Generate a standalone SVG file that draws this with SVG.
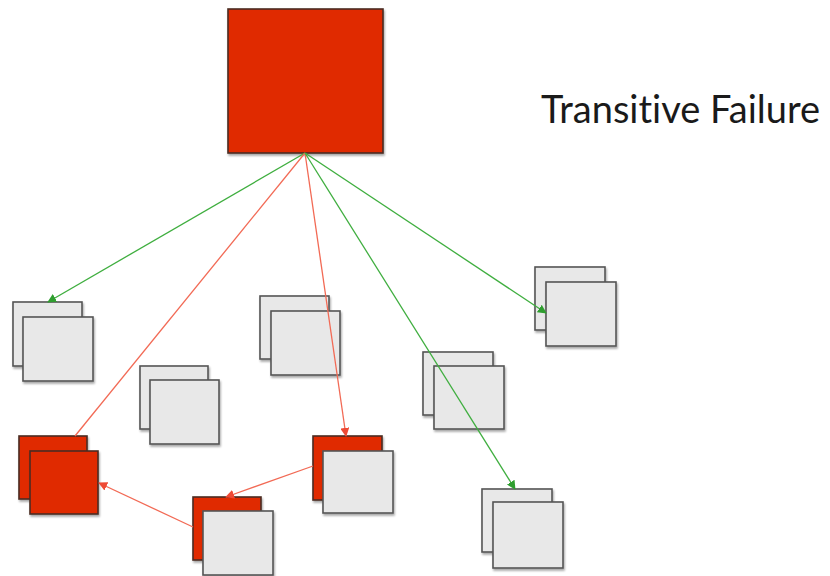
<svg xmlns="http://www.w3.org/2000/svg" width="830" height="576" viewBox="0 0 830 576">
  <defs>
    <style>
      .g { fill: #e8e8e8; stroke: #555555; stroke-width: 1.6; }
      .r { fill: #e02a00; stroke: #4a2a22; stroke-width: 1.6; }
      .sh { filter: url(#shadow); }
      .lg { stroke: #3fae3f; stroke-width: 1.3; fill: none; }
      .lr { stroke: #f26a55; stroke-width: 1.3; fill: none; }
      .title { font-family: Lato, "Liberation Sans", sans-serif; font-size: 38px; fill: #1a1a1a; font-variant-ligatures: none; font-feature-settings: "liga" 0; }
    </style>
    <filter id="shadow" x="-10%" y="-10%" width="125%" height="125%">
      <feGaussianBlur in="SourceAlpha" stdDeviation="1"/>
      <feOffset dx="1" dy="1.5" result="b"/>
      <feComponentTransfer><feFuncA type="linear" slope="0.35"/></feComponentTransfer>
      <feMerge><feMergeNode/><feMergeNode in="SourceGraphic"/></feMerge>
    </filter>
    <marker id="ag" viewBox="0 0 10 10" refX="9" refY="5" markerWidth="9" markerHeight="9" markerUnits="userSpaceOnUse" orient="auto">
      <path d="M0,0 L10,5 L0,10 z" fill="#2f9e2f"/>
    </marker>
    <marker id="ar" viewBox="0 0 10 10" refX="9" refY="5" markerWidth="9" markerHeight="9" markerUnits="userSpaceOnUse" orient="auto">
      <path d="M0,0 L10,5 L0,10 z" fill="#ee4a35"/>
    </marker>
  </defs>

  <rect width="830" height="576" fill="#ffffff"/>

  <!-- failing root service -->
  <g id="root">
    <rect class="r sh" x="228" y="9" width="155" height="144"/>
  </g>

  <!-- service pairs: back instance then front instance -->
  <g id="pair-a">
    <rect class="g sh" x="13" y="302" width="69" height="64"/>
    <rect class="g sh" x="23" y="317" width="70" height="64"/>
  </g>
  <g id="pair-b">
    <rect class="g sh" x="260" y="296" width="69" height="63"/>
    <rect class="g sh" x="271" y="311" width="69" height="64"/>
  </g>
  <g id="pair-c">
    <rect class="g sh" x="140" y="366" width="68" height="63"/>
    <rect class="g sh" x="150" y="380" width="69" height="64"/>
  </g>
  <g id="pair-d">
    <rect class="g sh" x="423" y="352" width="70" height="63"/>
    <rect class="g sh" x="434" y="366" width="70" height="63"/>
  </g>
  <g id="pair-e">
    <rect class="g sh" x="535" y="267" width="70" height="63"/>
    <rect class="g sh" x="546" y="282" width="70" height="64"/>
  </g>
  <g id="pair-f">
    <rect class="g sh" x="482" y="489" width="70" height="63"/>
    <rect class="g sh" x="493" y="502" width="70" height="66"/>
  </g>
  <g id="pair-g">
    <rect class="r sh" x="19" y="436" width="68" height="63"/>
    <rect class="r sh" x="30" y="451" width="68" height="63"/>
  </g>
  <g id="pair-h">
    <rect class="r sh" x="313" y="436" width="69" height="64"/>
    <rect class="g sh" x="323" y="451" width="70" height="62"/>
  </g>
  <g id="pair-i">
    <rect class="r sh" x="193" y="497" width="68" height="63"/>
    <rect class="g sh" x="203" y="511" width="70" height="64"/>
  </g>

  <!-- dependency connectors -->
  <g id="connectors">
    <line class="lg" x1="305" y1="153" x2="48" y2="302" marker-end="url(#ag)"/>
    <line class="lr" x1="305" y1="153" x2="75" y2="436"/>
    <line class="lr" x1="305" y1="153" x2="346" y2="436" marker-end="url(#ar)"/>
    <line class="lg" x1="305" y1="153" x2="515" y2="489" marker-end="url(#ag)"/>
    <line class="lg" x1="305" y1="153" x2="546" y2="313" marker-end="url(#ag)"/>
    <line class="lr" x1="313" y1="466" x2="226" y2="497" marker-end="url(#ar)"/>
    <line class="lr" x1="193" y1="527" x2="99" y2="483" marker-end="url(#ar)"/>
  </g>

  <text class="title" x="541" y="123">Transitive Failure</text>
</svg>
